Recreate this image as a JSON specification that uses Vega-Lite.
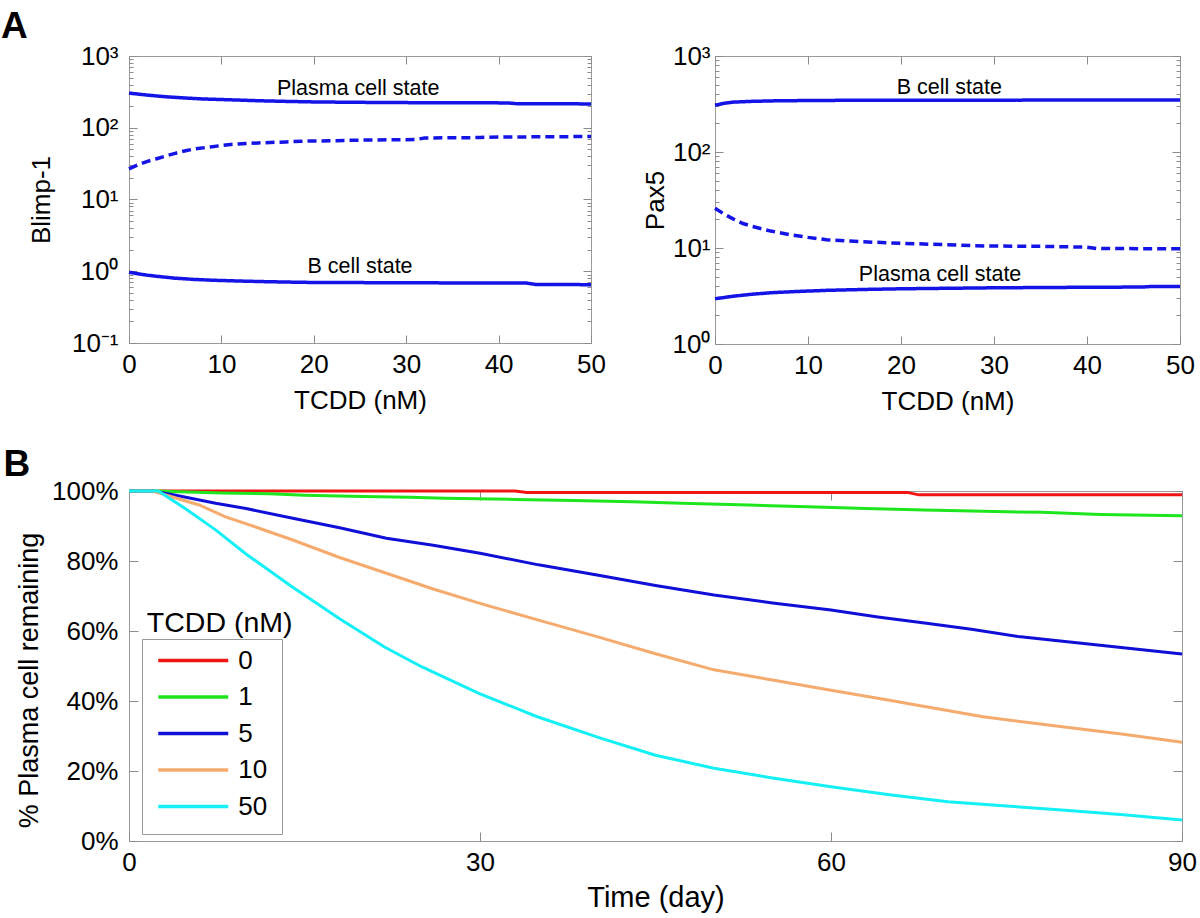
{
  "$schema": "https://vega.github.io/schema/vega-lite/v6.json",
  "background": "white",
  "padding": {"left": 0, "top": 7, "right": 0, "bottom": 0},
  "config": {
    "font": "Liberation Sans",
    "view": {"stroke": "#9a9a9a", "strokeWidth": 1},
    "axis": {"domain": false, "grid": false, "tickColor": "#8c8c8c", "tickWidth": 1, "labelColor": "#000000", "titleColor": "#000000", "labelFontSize": 26, "titleFontSize": 26, "titleFontWeight": "normal", "labelFlush": false, "labelOverlap": false},
    "text": {"font": "Liberation Sans", "fontSize": 21.5, "color": "#000000"},
    "title": {"fontSize": 37, "fontWeight": "bold", "color": "#000000", "anchor": "start", "frame": "bounds", "baseline": "alphabetic"}
  },
  "datasets": {
    "blimp": [
      {"branch": "plasma", "stability": "stable", "tcdd": 0, "value": 304},
      {"branch": "plasma", "stability": "stable", "tcdd": 2, "value": 285},
      {"branch": "plasma", "stability": "stable", "tcdd": 4, "value": 270},
      {"branch": "plasma", "stability": "stable", "tcdd": 6, "value": 260},
      {"branch": "plasma", "stability": "stable", "tcdd": 8, "value": 252},
      {"branch": "plasma", "stability": "stable", "tcdd": 11, "value": 245},
      {"branch": "plasma", "stability": "stable", "tcdd": 14, "value": 238},
      {"branch": "plasma", "stability": "stable", "tcdd": 17, "value": 233},
      {"branch": "plasma", "stability": "stable", "tcdd": 20, "value": 229},
      {"branch": "plasma", "stability": "stable", "tcdd": 25, "value": 226},
      {"branch": "plasma", "stability": "stable", "tcdd": 30, "value": 224},
      {"branch": "plasma", "stability": "stable", "tcdd": 35, "value": 223},
      {"branch": "plasma", "stability": "stable", "tcdd": 41, "value": 222},
      {"branch": "plasma", "stability": "stable", "tcdd": 42, "value": 216},
      {"branch": "plasma", "stability": "stable", "tcdd": 50, "value": 215},
      {"branch": "saddle", "stability": "unstable", "tcdd": 0, "value": 26.7},
      {"branch": "saddle", "stability": "unstable", "tcdd": 1, "value": 30.5},
      {"branch": "saddle", "stability": "unstable", "tcdd": 2, "value": 34},
      {"branch": "saddle", "stability": "unstable", "tcdd": 3, "value": 37},
      {"branch": "saddle", "stability": "unstable", "tcdd": 4, "value": 40.5},
      {"branch": "saddle", "stability": "unstable", "tcdd": 5, "value": 44},
      {"branch": "saddle", "stability": "unstable", "tcdd": 6, "value": 47.5},
      {"branch": "saddle", "stability": "unstable", "tcdd": 7, "value": 50.5},
      {"branch": "saddle", "stability": "unstable", "tcdd": 9, "value": 54.5},
      {"branch": "saddle", "stability": "unstable", "tcdd": 11, "value": 58.5},
      {"branch": "saddle", "stability": "unstable", "tcdd": 14, "value": 61.5},
      {"branch": "saddle", "stability": "unstable", "tcdd": 17, "value": 63.5},
      {"branch": "saddle", "stability": "unstable", "tcdd": 19, "value": 65},
      {"branch": "saddle", "stability": "unstable", "tcdd": 22, "value": 66},
      {"branch": "saddle", "stability": "unstable", "tcdd": 26, "value": 67.5},
      {"branch": "saddle", "stability": "unstable", "tcdd": 31, "value": 68.5},
      {"branch": "saddle", "stability": "unstable", "tcdd": 32, "value": 72},
      {"branch": "saddle", "stability": "unstable", "tcdd": 38, "value": 73},
      {"branch": "saddle", "stability": "unstable", "tcdd": 39, "value": 74},
      {"branch": "saddle", "stability": "unstable", "tcdd": 50, "value": 75.5},
      {"branch": "bcell", "stability": "stable", "tcdd": 0, "value": 0.97},
      {"branch": "bcell", "stability": "stable", "tcdd": 1, "value": 0.92},
      {"branch": "bcell", "stability": "stable", "tcdd": 2, "value": 0.88},
      {"branch": "bcell", "stability": "stable", "tcdd": 3, "value": 0.85},
      {"branch": "bcell", "stability": "stable", "tcdd": 5, "value": 0.8},
      {"branch": "bcell", "stability": "stable", "tcdd": 7, "value": 0.77},
      {"branch": "bcell", "stability": "stable", "tcdd": 9, "value": 0.75},
      {"branch": "bcell", "stability": "stable", "tcdd": 12, "value": 0.73},
      {"branch": "bcell", "stability": "stable", "tcdd": 15, "value": 0.715},
      {"branch": "bcell", "stability": "stable", "tcdd": 19, "value": 0.7},
      {"branch": "bcell", "stability": "stable", "tcdd": 30, "value": 0.69},
      {"branch": "bcell", "stability": "stable", "tcdd": 43, "value": 0.685},
      {"branch": "bcell", "stability": "stable", "tcdd": 44, "value": 0.655},
      {"branch": "bcell", "stability": "stable", "tcdd": 50, "value": 0.65}
    ],
    "blimpLabels": [
      {"label": "Plasma cell state", "tcdd": 24.8, "value": 346},
      {"label": "B cell state", "tcdd": 25, "value": 1.13}
    ],
    "pax": [
      {"branch": "bcell", "stability": "stable", "tcdd": 0, "value": 307},
      {"branch": "bcell", "stability": "stable", "tcdd": 1, "value": 322},
      {"branch": "bcell", "stability": "stable", "tcdd": 2, "value": 331},
      {"branch": "bcell", "stability": "stable", "tcdd": 4, "value": 337},
      {"branch": "bcell", "stability": "stable", "tcdd": 7, "value": 342},
      {"branch": "bcell", "stability": "stable", "tcdd": 15, "value": 346},
      {"branch": "bcell", "stability": "stable", "tcdd": 50, "value": 348},
      {"branch": "saddle", "stability": "unstable", "tcdd": 0, "value": 25.9},
      {"branch": "saddle", "stability": "unstable", "tcdd": 1, "value": 22.5},
      {"branch": "saddle", "stability": "unstable", "tcdd": 2, "value": 20},
      {"branch": "saddle", "stability": "unstable", "tcdd": 3, "value": 18},
      {"branch": "saddle", "stability": "unstable", "tcdd": 4, "value": 16.8},
      {"branch": "saddle", "stability": "unstable", "tcdd": 6, "value": 15},
      {"branch": "saddle", "stability": "unstable", "tcdd": 8, "value": 13.8},
      {"branch": "saddle", "stability": "unstable", "tcdd": 10, "value": 12.9},
      {"branch": "saddle", "stability": "unstable", "tcdd": 12, "value": 12.2},
      {"branch": "saddle", "stability": "unstable", "tcdd": 16, "value": 11.6},
      {"branch": "saddle", "stability": "unstable", "tcdd": 20, "value": 11.2},
      {"branch": "saddle", "stability": "unstable", "tcdd": 25, "value": 10.8},
      {"branch": "saddle", "stability": "unstable", "tcdd": 29, "value": 10.5},
      {"branch": "saddle", "stability": "unstable", "tcdd": 35, "value": 10.4},
      {"branch": "saddle", "stability": "unstable", "tcdd": 40, "value": 10.2},
      {"branch": "saddle", "stability": "unstable", "tcdd": 41, "value": 9.9},
      {"branch": "saddle", "stability": "unstable", "tcdd": 50, "value": 9.8},
      {"branch": "plasma", "stability": "stable", "tcdd": 0, "value": 2.96},
      {"branch": "plasma", "stability": "stable", "tcdd": 2, "value": 3.15},
      {"branch": "plasma", "stability": "stable", "tcdd": 4, "value": 3.3},
      {"branch": "plasma", "stability": "stable", "tcdd": 6, "value": 3.42},
      {"branch": "plasma", "stability": "stable", "tcdd": 9, "value": 3.53},
      {"branch": "plasma", "stability": "stable", "tcdd": 12, "value": 3.62},
      {"branch": "plasma", "stability": "stable", "tcdd": 16, "value": 3.7},
      {"branch": "plasma", "stability": "stable", "tcdd": 20, "value": 3.76},
      {"branch": "plasma", "stability": "stable", "tcdd": 30, "value": 3.85},
      {"branch": "plasma", "stability": "stable", "tcdd": 40, "value": 3.9},
      {"branch": "plasma", "stability": "stable", "tcdd": 46, "value": 3.92},
      {"branch": "plasma", "stability": "stable", "tcdd": 47, "value": 3.98},
      {"branch": "plasma", "stability": "stable", "tcdd": 50, "value": 3.98}
    ],
    "paxLabels": [
      {"label": "B cell state", "tcdd": 25.2, "value": 464},
      {"label": "Plasma cell state", "tcdd": 24.2, "value": 5.24}
    ],
    "survival": [
      {"tcdd": "0", "day": 0, "pct": 100}, {"tcdd": "0", "day": 33, "pct": 100}, {"tcdd": "0", "day": 34, "pct": 99.6}, {"tcdd": "0", "day": 66.5, "pct": 99.6}, {"tcdd": "0", "day": 67.5, "pct": 98.9}, {"tcdd": "0", "day": 90, "pct": 98.9},
      {"tcdd": "1", "day": 0, "pct": 100}, {"tcdd": "1", "day": 2, "pct": 100}, {"tcdd": "1", "day": 8, "pct": 99.4}, {"tcdd": "1", "day": 12, "pct": 99.2}, {"tcdd": "1", "day": 15, "pct": 98.8}, {"tcdd": "1", "day": 20, "pct": 98.4}, {"tcdd": "1", "day": 24, "pct": 98.2}, {"tcdd": "1", "day": 27, "pct": 97.9}, {"tcdd": "1", "day": 33, "pct": 97.6}, {"tcdd": "1", "day": 38, "pct": 97.3}, {"tcdd": "1", "day": 43, "pct": 96.9}, {"tcdd": "1", "day": 48, "pct": 96.4}, {"tcdd": "1", "day": 53, "pct": 96}, {"tcdd": "1", "day": 58, "pct": 95.5}, {"tcdd": "1", "day": 63, "pct": 95}, {"tcdd": "1", "day": 68, "pct": 94.6}, {"tcdd": "1", "day": 73, "pct": 94.2}, {"tcdd": "1", "day": 78, "pct": 93.9}, {"tcdd": "1", "day": 83, "pct": 93.3}, {"tcdd": "1", "day": 90, "pct": 92.9},
      {"tcdd": "5", "day": 0, "pct": 100}, {"tcdd": "5", "day": 2, "pct": 100}, {"tcdd": "5", "day": 4, "pct": 98.8}, {"tcdd": "5", "day": 7.4, "pct": 96.5}, {"tcdd": "5", "day": 10, "pct": 95}, {"tcdd": "5", "day": 14, "pct": 92.2}, {"tcdd": "5", "day": 18, "pct": 89.5}, {"tcdd": "5", "day": 22, "pct": 86.5}, {"tcdd": "5", "day": 26, "pct": 84.5}, {"tcdd": "5", "day": 30, "pct": 82.2}, {"tcdd": "5", "day": 35, "pct": 78.9}, {"tcdd": "5", "day": 40, "pct": 76}, {"tcdd": "5", "day": 45, "pct": 73}, {"tcdd": "5", "day": 50, "pct": 70.3}, {"tcdd": "5", "day": 55, "pct": 68}, {"tcdd": "5", "day": 60, "pct": 66}, {"tcdd": "5", "day": 64, "pct": 64}, {"tcdd": "5", "day": 68, "pct": 62.3}, {"tcdd": "5", "day": 72, "pct": 60.5}, {"tcdd": "5", "day": 76, "pct": 58.4}, {"tcdd": "5", "day": 80, "pct": 57}, {"tcdd": "5", "day": 85, "pct": 55.2}, {"tcdd": "5", "day": 90, "pct": 53.4},
      {"tcdd": "10", "day": 0, "pct": 100}, {"tcdd": "10", "day": 2, "pct": 100}, {"tcdd": "10", "day": 4, "pct": 98}, {"tcdd": "10", "day": 6, "pct": 96}, {"tcdd": "10", "day": 8.2, "pct": 92.7}, {"tcdd": "10", "day": 11, "pct": 89.5}, {"tcdd": "10", "day": 14, "pct": 86}, {"tcdd": "10", "day": 18, "pct": 81}, {"tcdd": "10", "day": 22, "pct": 76.5}, {"tcdd": "10", "day": 26, "pct": 72}, {"tcdd": "10", "day": 30, "pct": 67.9}, {"tcdd": "10", "day": 35, "pct": 63.1}, {"tcdd": "10", "day": 40, "pct": 58.4}, {"tcdd": "10", "day": 45, "pct": 53.5}, {"tcdd": "10", "day": 50, "pct": 48.9}, {"tcdd": "10", "day": 55, "pct": 46}, {"tcdd": "10", "day": 60, "pct": 43.1}, {"tcdd": "10", "day": 65, "pct": 40.2}, {"tcdd": "10", "day": 68, "pct": 38.4}, {"tcdd": "10", "day": 73, "pct": 35.5}, {"tcdd": "10", "day": 79.6, "pct": 32.7}, {"tcdd": "10", "day": 85, "pct": 30.5}, {"tcdd": "10", "day": 90, "pct": 28.2},
      {"tcdd": "50", "day": 0, "pct": 100}, {"tcdd": "50", "day": 2.5, "pct": 100}, {"tcdd": "50", "day": 4.8, "pct": 95}, {"tcdd": "50", "day": 7.4, "pct": 88.9}, {"tcdd": "50", "day": 10, "pct": 82}, {"tcdd": "50", "day": 13.9, "pct": 72.7}, {"tcdd": "50", "day": 18, "pct": 63.5}, {"tcdd": "50", "day": 21.8, "pct": 55.5}, {"tcdd": "50", "day": 25, "pct": 49.8}, {"tcdd": "50", "day": 29.9, "pct": 42.2}, {"tcdd": "50", "day": 34.9, "pct": 35.5}, {"tcdd": "50", "day": 40.3, "pct": 29.4}, {"tcdd": "50", "day": 45, "pct": 24.5}, {"tcdd": "50", "day": 50, "pct": 20.8}, {"tcdd": "50", "day": 55, "pct": 18}, {"tcdd": "50", "day": 60, "pct": 15.5}, {"tcdd": "50", "day": 65, "pct": 13.2}, {"tcdd": "50", "day": 70, "pct": 11.2}, {"tcdd": "50", "day": 75, "pct": 10}, {"tcdd": "50", "day": 80, "pct": 8.8}, {"tcdd": "50", "day": 85, "pct": 7.5}, {"tcdd": "50", "day": 90, "pct": 6}
    ],
    "legendTitle": [
      {"label": "TCDD (nM)", "day": 7.75, "pct": 59.7}
    ]
  },
  "vconcat": [
    {
      "title": {"text": "A", "dx": -27, "offset": -3},
      "spacing": 35,
      "hconcat": [
        {
          "width": 462,
          "height": 287,
          "resolve": {"axis": {"x": "independent", "y": "independent"}},
          "layer": [
            {
              "data": {"name": "blimp"},
              "mark": {"type": "line", "strokeWidth": 3.5, "color": "#1414e6"},
              "encoding": {
                "x": {"field": "tcdd", "type": "quantitative", "scale": {"domain": [0, 50], "nice": false, "zero": false},
                      "axis": {"title": "TCDD (nM)", "values": [0, 10, 20, 30, 40, 50], "tickSize": -8, "labelPadding": 16, "titlePadding": 10}},
                "y": {"field": "value", "type": "quantitative", "scale": {"type": "log", "domain": [0.1, 1000], "nice": false},
                      "axis": {"title": "Blimp-1", "values": [0.1,0.2,0.3,0.4,0.5,0.6,0.7,0.8,0.9,1,2,3,4,5,6,7,8,9,10,20,30,40,50,60,70,80,90,100,200,300,400,500,600,700,800,900,1000],
                               "labelExpr": "datum.value==1000?'10³':datum.value==100?'10²':datum.value==10?'10¹':datum.value==1?'10⁰':datum.value==0.1?'10⁻¹':''",
                               "tickSize": {"condition": {"test": "datum.value==0.1||datum.value==1||datum.value==10||datum.value==100||datum.value==1000", "value": -8}, "value": -4},
                               "labelPadding": 19, "titlePadding": 17}},
                "detail": {"field": "branch"},
                "strokeDash": {"field": "stability", "type": "nominal", "scale": {"domain": ["stable", "unstable"], "range": [[1, 0], [9, 5]]}, "legend": null}
              }
            },
            {
              "data": {"name": "blimpLabels"},
              "mark": {"type": "text", "baseline": "middle"},
              "encoding": {
                "x": {"field": "tcdd", "type": "quantitative", "axis": {"orient": "top", "title": null, "labels": false, "values": [0, 10, 20, 30, 40, 50], "tickSize": -8}},
                "y": {"field": "value", "type": "quantitative",
                      "axis": {"orient": "right", "title": null, "labels": false, "values": [0.1,0.2,0.3,0.4,0.5,0.6,0.7,0.8,0.9,1,2,3,4,5,6,7,8,9,10,20,30,40,50,60,70,80,90,100,200,300,400,500,600,700,800,900,1000],
                               "tickSize": {"condition": {"test": "datum.value==0.1||datum.value==1||datum.value==10||datum.value==100||datum.value==1000", "value": -8}, "value": -4}}},
                "text": {"field": "label"}
              }
            }
          ]
        },
        {
          "width": 465,
          "height": 288,
          "resolve": {"axis": {"x": "independent", "y": "independent"}},
          "layer": [
            {
              "data": {"name": "pax"},
              "mark": {"type": "line", "strokeWidth": 3.5, "color": "#1414e6"},
              "encoding": {
                "x": {"field": "tcdd", "type": "quantitative", "scale": {"domain": [0, 50], "nice": false, "zero": false},
                      "axis": {"title": "TCDD (nM)", "values": [0, 10, 20, 30, 40, 50], "tickSize": -8, "labelPadding": 16, "titlePadding": 10}},
                "y": {"field": "value", "type": "quantitative", "scale": {"type": "log", "domain": [1, 1000], "nice": false},
                      "axis": {"title": "Pax5", "values": [1,2,3,4,5,6,7,8,9,10,20,30,40,50,60,70,80,90,100,200,300,400,500,600,700,800,900,1000],
                               "labelExpr": "datum.value==1000?'10³':datum.value==100?'10²':datum.value==10?'10¹':datum.value==1?'10⁰':''",
                               "tickSize": {"condition": {"test": "datum.value==1||datum.value==10||datum.value==100||datum.value==1000", "value": -8}, "value": -4},
                               "labelPadding": 13, "titlePadding": 4}},
                "detail": {"field": "branch"},
                "strokeDash": {"field": "stability", "type": "nominal", "scale": {"domain": ["stable", "unstable"], "range": [[1, 0], [9, 5]]}, "legend": null}
              }
            },
            {
              "data": {"name": "paxLabels"},
              "mark": {"type": "text", "baseline": "middle"},
              "encoding": {
                "x": {"field": "tcdd", "type": "quantitative", "axis": {"orient": "top", "title": null, "labels": false, "values": [0, 10, 20, 30, 40, 50], "tickSize": -8}},
                "y": {"field": "value", "type": "quantitative",
                      "axis": {"orient": "right", "title": null, "labels": false, "values": [1,2,3,4,5,6,7,8,9,10,20,30,40,50,60,70,80,90,100,200,300,400,500,600,700,800,900,1000],
                               "tickSize": {"condition": {"test": "datum.value==1||datum.value==10||datum.value==100||datum.value==1000", "value": -8}, "value": -4}}},
                "text": {"field": "label"}
              }
            }
          ]
        }
      ]
    },
    {
      "title": {"text": "B", "dx": -12, "offset": -6},
      "width": 1053,
      "height": 350,
      "resolve": {"axis": {"x": "independent", "y": "independent"}},
      "layer": [
        {
          "data": {"name": "survival"},
          "mark": {"type": "line", "strokeWidth": 3},
          "encoding": {
            "x": {"field": "day", "type": "quantitative", "scale": {"domain": [0, 90], "nice": false},
                  "axis": {"title": "Time (day)", "values": [0, 30, 60, 90], "tickSize": -9, "labelPadding": 17, "titlePadding": 8, "titleFontSize": 29}},
            "y": {"field": "pct", "type": "quantitative", "scale": {"domain": [0, 100], "nice": false},
                  "axis": {"title": "% Plasma cell remaining", "values": [0, 20, 40, 60, 80, 100], "labelExpr": "datum.value + '%'", "tickSize": -9, "labelPadding": 20, "titlePadding": 8, "titleY": 189, "titleFontSize": 27}},
            "color": {"field": "tcdd", "type": "nominal",
                      "scale": {"domain": ["0", "1", "5", "10", "50"], "range": ["#f01414", "#1ee61e", "#0f0fd7", "#f5aa6e", "#14f0f5"]},
                      "legend": {"title": null, "orient": "none", "legendX": 13, "legendY": 583, "direction": "vertical",
                                 "symbolType": "stroke", "symbolSize": 4900, "symbolStrokeWidth": 3.5,
                                 "labelFontSize": 26, "labelColor": "#000000", "labelOffset": 8,
                                 "clipHeight": 14.5, "rowPadding": 9.5, "padding": 14.25, "strokeColor": "#9a9a9a", "fillColor": "white", "cornerRadius": 0}}
          }
        },
        {
          "data": {"name": "legendTitle"},
          "mark": {"type": "text", "fontSize": 28.5, "baseline": "alphabetic", "align": "center"},
          "encoding": {
            "x": {"field": "day", "type": "quantitative", "axis": {"orient": "top", "title": null, "labels": false, "values": [0, 30, 60, 90], "tickSize": -9}},
            "y": {"field": "pct", "type": "quantitative", "axis": {"orient": "right", "title": null, "labels": false, "values": [0, 20, 40, 60, 80, 100], "tickSize": -9}},
            "text": {"field": "label"}
          }
        }
      ]
    }
  ],
  "spacing": 30
}
